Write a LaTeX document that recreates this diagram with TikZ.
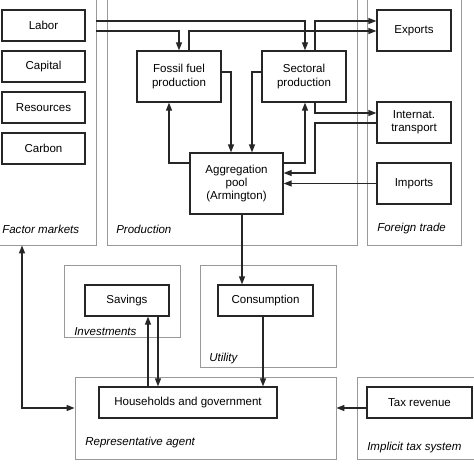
\documentclass[tikz,border=0pt]{standalone}
\usepackage{fontspec}
\setmainfont{Liberation Sans}
\usetikzlibrary{arrows.meta, positioning, fit}
\def\px{0.025cm}

\begin{document}
\begin{tikzpicture}[x=0.025cm, y=-0.025cm,
    every node/.style={font=\fontsize{8.2}{9.4}\selectfont},
    box/.style={draw=black!85, line width=0.9pt, fill=white, align=center, inner sep=1pt},
    factorbox/.style={box, minimum width=83*\px, minimum height=31*\px},
    prodbox/.style={box, minimum width=84*\px, minimum height=51*\px},
    tradebox/.style={box, minimum width=74*\px, minimum height=41*\px},
    group/.style={draw=black!40, line width=0.6pt, inner sep=0pt},
    grouplabel/.style={font=\fontsize{8.2}{9.4}\selectfont\itshape, anchor=west, inner sep=0pt},
    flow/.style={-{Triangle[length=2mm, width=1.5mm]}, line width=0.9pt, draw=black!85}
]
    \useasboundingbox (0,0) rectangle (474,474);
    \clip (0,0) rectangle (474,474);

    % groups
    \node[group, fit={(-20,-20) (96,245)}, name=factor] {};
    \node[group, fit={(107,-20) (357,245)}, name=prod] {};
    \node[group, fit={(367,-20) (461,245)}, name=trade] {};
    \node[group, fit={(64,265) (180,337)}, name=invest] {};
    \node[group, fit={(200,265) (336,367)}, name=util] {};
    \node[group, fit={(75,377) (336,459)}, name=rep] {};
    \node[group, fit={(357,377) (495,459)}, name=taxsys] {};

    \node[grouplabel, name=lfactor] at (2,229) {Factor markets};
    \node[grouplabel, name=lprod] at (116,229) {Production};
    \node[grouplabel, name=ltrade] at (377,229) {Foreign trade};
    \node[grouplabel, name=linvest] at (74,332) {Investments};
    \node[grouplabel, name=lutil] at (209,359) {Utility};
    \node[grouplabel, name=lrep] at (85,443) {Representative agent};
    \node[grouplabel, name=ltaxsys] at (367,448) {Implicit tax system};

    % factor markets
    \foreach \lab [count=\i] in {Labor,Capital,Resources,Carbon}
    {
        \node[factorbox, name=F\i] at (43.5, 41*\i-15.5) {\lab};
    };

    % production
    \node[prodbox, name=fossil] at (179,76.5) {Fossil fuel\\production};
    \node[prodbox, name=sect] at (304,76.5) {Sectoral\\production};
    \node[box, minimum width=93*\px, minimum height=61*\px, name=agg] at (236.5,183.5) {Aggregation\\pool\\(Armington)};

    % foreign trade
    \node[tradebox, name=exports] at (414,30.5) {Exports};
    \node[tradebox, name=trans] at (414,122.5) {Internat.\\transport};
    \node[tradebox, name=imports] at (414,183.5) {Imports};

    % final demand
    \node[box, minimum width=84*\px, minimum height=31*\px, name=sav] at (127,300.5) {Savings};
    \node[box, minimum width=95*\px, minimum height=31*\px, name=cons] at (265.5,300.5) {Consumption};
    \node[box, minimum width=178*\px, minimum height=31*\px, name=hh] at (188,402.5) {Households and government};
    \node[box, minimum width=105*\px, minimum height=31*\px, name=tax] at (419.5,402.5) {Tax revenue};

    % flows
    \draw[flow] (factor.east |- 0,31) -| (fossil.north);
    \draw[flow] (factor.east |- 0,21) -| (sect.north -| 305,0);
    \draw[flow] (fossil.north -| 189,0) |- (exports.west |- 0,31);
    \draw[flow] (sect.north -| 315,0) |- (exports.west |- 0,21);
    \draw[flow] (fossil.east |- 0,72) -| (agg.north -| 231,0);
    \draw[flow] (agg.west |- 0,163) -| (fossil.south -| 169,0);
    \draw[flow] (sect.west |- 0,72) -| (agg.north -| 252,0);
    \draw[flow] (agg.east |- 0,163) -| (sect.south -| 305,0);
    \draw[flow] (sect.south -| 315,0) |- (trans.west |- 0,113);
    \draw[flow] (trans.west |- 0,123) -| (315,173) -- (agg.east |- 0,173);
    \draw[flow] (imports.west) -- (agg.east);
    \draw[flow] (agg.south -| 242,0) -- (cons.north -| 242,0);
    \draw[flow] (cons.south -| 263,0) -- (hh.north -| 263,0);
    \draw[flow] (hh.north -| 148,0) -- (sav.south -| 148,0);
    \draw[flow] (sav.south -| 158,0) -- (hh.north -| 158,0);
    \draw[flow, {Triangle[length=2mm, width=1.5mm]}-{Triangle[length=2mm, width=1.5mm]}] (factor.south -| 22,0) |- (rep.west |- 0,408);
    \draw[flow] (tax.west |- 0,408) -- (rep.east |- 0,408);

\end{tikzpicture}
\end{document}
